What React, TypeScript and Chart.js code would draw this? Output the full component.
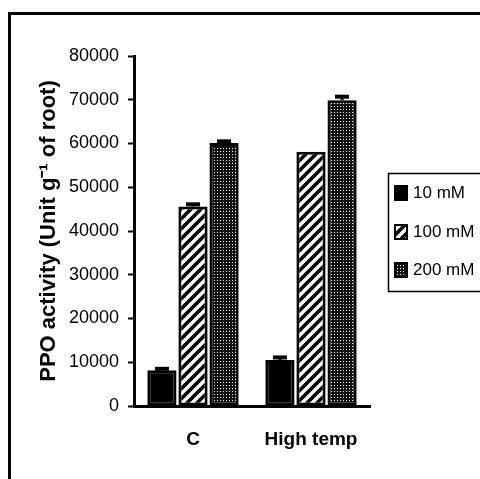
import { useEffect, useRef } from "react";
import { Chart, registerables } from "chart.js";
Chart.register(...registerables);

const categories = ["C", "High temp"];
const seriesLabels = ["10 mM", "100 mM", "200 mM"];
const values10 = [8200, 10500];
const values100 = [45600, 58100];
const values200 = [60100, 69900];
const errors10 = [300, 600];
const errors100 = [500, 0];
const errors200 = [400, 800];
const yTicks = [0, 10000, 20000, 30000, 40000, 50000, 60000, 70000, 80000];
const yTitle = "PPO activity (Unit g\u207B\u00B9 of root)";

function makeHatch(): CanvasPattern | string {
  const c = document.createElement("canvas");
  const s = 10;
  c.width = s;
  c.height = s;
  const g = c.getContext("2d");
  if (!g) return "#fff";
  g.fillStyle = "#fff";
  g.fillRect(0, 0, s, s);
  g.strokeStyle = "#000";
  g.lineWidth = 3.6;
  g.beginPath();
  g.moveTo(-s / 2, s / 2);
  g.lineTo(s / 2, -s / 2);
  g.moveTo(0, s);
  g.lineTo(s, 0);
  g.moveTo(s / 2, s * 1.5);
  g.lineTo(s * 1.5, s / 2);
  g.stroke();
  return g.createPattern(c, "repeat") || "#fff";
}

function makeDots(): CanvasPattern | string {
  const c = document.createElement("canvas");
  const s = 3;
  c.width = s;
  c.height = s;
  const g = c.getContext("2d");
  if (!g) return "#333";
  g.fillStyle = "#111";
  g.fillRect(0, 0, s, s);
  g.fillStyle = "#fff";
  g.fillRect(1, 1, 1, 1);
  return g.createPattern(c, "repeat") || "#333";
}

export default function App() {
  const ref = useRef<HTMLCanvasElement | null>(null);
  useEffect(() => {
    if (!ref.current) return;
    const hatch = makeHatch();
    const dots = makeDots();
    const fills = ["#000", hatch, dots];
    const errs = [errors10, errors100, errors200];

    const errorBars = {
      id: "errorBars",
      afterDatasetsDraw(chart: any) {
        const ctx = chart.ctx;
        const y = chart.scales.y;
        chart.data.datasets.forEach((ds: any, i: number) => {
          const meta = chart.getDatasetMeta(i);
          meta.data.forEach((el: any, j: number) => {
            const e = errs[i][j];
            if (!e) return;
            const top = y.getPixelForValue(ds.data[j] + e);
            ctx.save();
            ctx.strokeStyle = "#000";
            ctx.lineWidth = 3;
            ctx.beginPath();
            ctx.moveTo(el.x, el.y);
            ctx.lineTo(el.x, top);
            ctx.stroke();
            ctx.lineWidth = 4;
            ctx.beginPath();
            ctx.moveTo(el.x - 7, top);
            ctx.lineTo(el.x + 7, top);
            ctx.stroke();
            ctx.restore();
          });
        });
      },
    };

    const frameLegend = {
      id: "frameLegend",
      afterDraw(chart: any) {
        const ctx = chart.ctx;
        ctx.save();
        ctx.strokeStyle = "#000";
        ctx.lineWidth = 3;
        ctx.strokeRect(9.5, 13.5, 490, 490);
        ctx.lineWidth = 1.5;
        ctx.strokeRect(388.5, 173.5, 110, 118);
        const rows = [193, 232, 270];
        ctx.font = "17px 'Liberation Sans', Arial, sans-serif";
        ctx.textBaseline = "middle";
        ctx.textAlign = "left";
        chart.data.datasets.forEach((ds: any, i: number) => {
          const cy = rows[i];
          ctx.fillStyle = ds.backgroundColor;
          ctx.fillRect(395, cy - 7, 12, 14);
          ctx.lineWidth = 2;
          ctx.strokeStyle = "#000";
          ctx.strokeRect(395, cy - 7, 12, 14);
          ctx.fillStyle = "#000";
          ctx.fillText(ds.label, 413, cy);
        });
        ctx.restore();
      },
    };

    const chart = new Chart(ref.current, {
      type: "bar",
      data: {
        labels: categories,
        datasets: [
          { label: seriesLabels[0], data: values10, backgroundColor: fills[0] as any },
          { label: seriesLabels[1], data: values100, backgroundColor: fills[1] as any },
          { label: seriesLabels[2], data: values200, backgroundColor: fills[2] as any },
        ].map((d) => ({
          ...d,
          borderColor: "#000",
          borderWidth: 3,
          borderSkipped: false as any,
          categoryPercentage: 0.79,
          barPercentage: 0.94,
        })),
      },
      options: {
        responsive: false,
        animation: false,
        layout: { padding: { left: 34, right: 110, top: 56, bottom: 0 } },
        plugins: {
          legend: { display: false },
          tooltip: { enabled: false },
        },
        scales: {
          x: {
            grid: { display: false, drawTicks: false },
            border: { display: true, color: "#000", width: 3 },
            ticks: {
              color: "#000",
              padding: 22,
              font: { family: "'Liberation Sans', Arial, sans-serif", size: 19, weight: "bold" },
            },
            afterFit: (s: any) => {
              s.height = 73;
            },
          },
          y: {
            min: 0,
            max: 80000,
            afterBuildTicks: (s: any) => {
              s.ticks = yTicks.map((v) => ({ value: v }));
            },
            grid: {
              display: true,
              drawOnChartArea: false,
              drawTicks: true,
              tickLength: 6,
              tickWidth: 2,
              tickColor: "#000",
            },
            border: { display: true, color: "#000", width: 3 },
            ticks: {
              color: "#000",
              padding: 9,
              font: { family: "'Liberation Sans', Arial, sans-serif", size: 18 },
              callback: (v: any) => String(v),
            },
            title: {
              display: true,
              text: yTitle,
              color: "#000",
              padding: { top: 2, bottom: 0 },
              font: { family: "'Liberation Sans', Arial, sans-serif", size: 22, weight: "bold" },
            },
            afterFit: (s: any) => {
              s.width = 100;
            },
          },
        },
      },
      plugins: [errorBars, frameLegend],
    });
    return () => chart.destroy();
  }, []);
  return (
    <div style={{ position: "fixed", left: 0, top: 0, width: 480, height: 479, background: "#fff" }}>
      <canvas ref={ref} width={480} height={479} />
    </div>
  );
}
